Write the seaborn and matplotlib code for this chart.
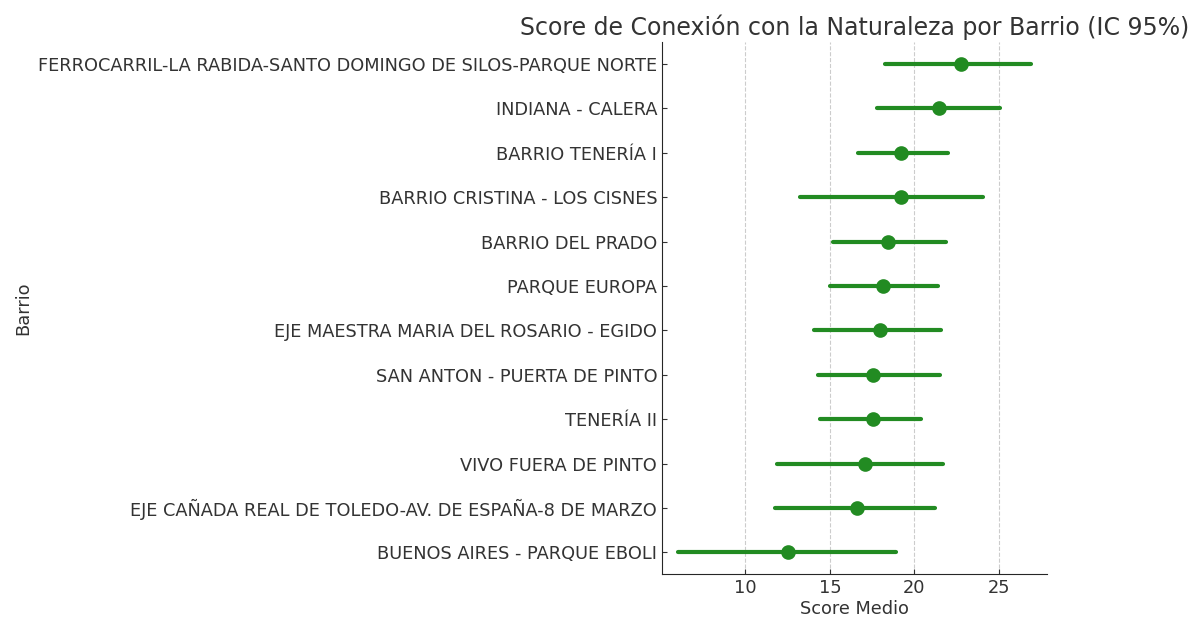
import pandas as pd
import seaborn as sns
import matplotlib.pyplot as plt

# barrios, top to bottom
barrios = [
    "FERROCARRIL-LA RABIDA-SANTO DOMINGO DE SILOS-PARQUE NORTE",
    "INDIANA - CALERA",
    "BARRIO TENERÍA I",
    "BARRIO CRISTINA - LOS CISNES",
    "BARRIO DEL PRADO",
    "PARQUE EUROPA",
    "EJE MAESTRA MARIA DEL ROSARIO - EGIDO",
    "SAN ANTON - PUERTA DE PINTO",
    "TENERÍA II",
    "VIVO FUERA DE PINTO",
    "EJE CAÑADA REAL DE TOLEDO-AV. DE ESPAÑA-8 DE MARZO",
    "BUENOS AIRES - PARQUE EBOLI",
]
score_medio = [22.75, 21.44, 19.21, 19.19, 18.44, 18.14, 18.0, 17.57, 17.53, 17.1, 16.64, 12.53]
ic_inf = [18.28, 17.79, 16.68, 13.22, 15.18, 15.0, 14.04, 14.31, 14.43, 11.86, 11.74, 6.01]
ic_sup = [26.92, 25.06, 22.02, 24.07, 21.9, 21.42, 21.6, 21.5, 20.42, 21.68, 21.26, 18.91]

# three rows per barrio: median = mean, full range = CI
rows = []
for b, m, lo, hi in zip(barrios, score_medio, ic_inf, ic_sup):
    for v in (lo, m, hi):
        rows.append({"Barrio": b, "Score Medio": v})
df = pd.DataFrame(rows)

sns.set_style("ticks")
plt.rcParams["font.family"] = ["DejaVu Sans"]
txt = "#333333"

fig = plt.figure(figsize=(11.92, 6.18), dpi=100)
ax = fig.add_axes([0.5554, 0.0704, 0.3230, 0.8620])

sns.pointplot(data=df, x="Score Medio", y="Barrio", order=barrios,
              estimator="median", errorbar=("pi", 100),
              linestyle="none", color="forestgreen", markersize=8.5,
              err_kws={"linewidth": 3}, ax=ax)

ax.set_xlim(5.06, 27.87)
ax.set_xticks([10, 15, 20, 25])
ax.xaxis.grid(True, linestyle="--", color="#cccccc", linewidth=0.8)
ax.set_axisbelow(True)
sns.despine(ax=ax)
ax.tick_params(direction="in", labelsize=12.8, colors=txt, labelcolor=txt)
ax.set_title("Score de Conexión con la Naturaleza por Barrio (IC 95%)", fontsize=17, color=txt, pad=5)
ax.set_xlabel("Score Medio", fontsize=12.8, color=txt, labelpad=2)
ax.set_ylabel("Barrio", fontsize=12.8, color=txt)

fig.savefig("out.png", dpi=100)
